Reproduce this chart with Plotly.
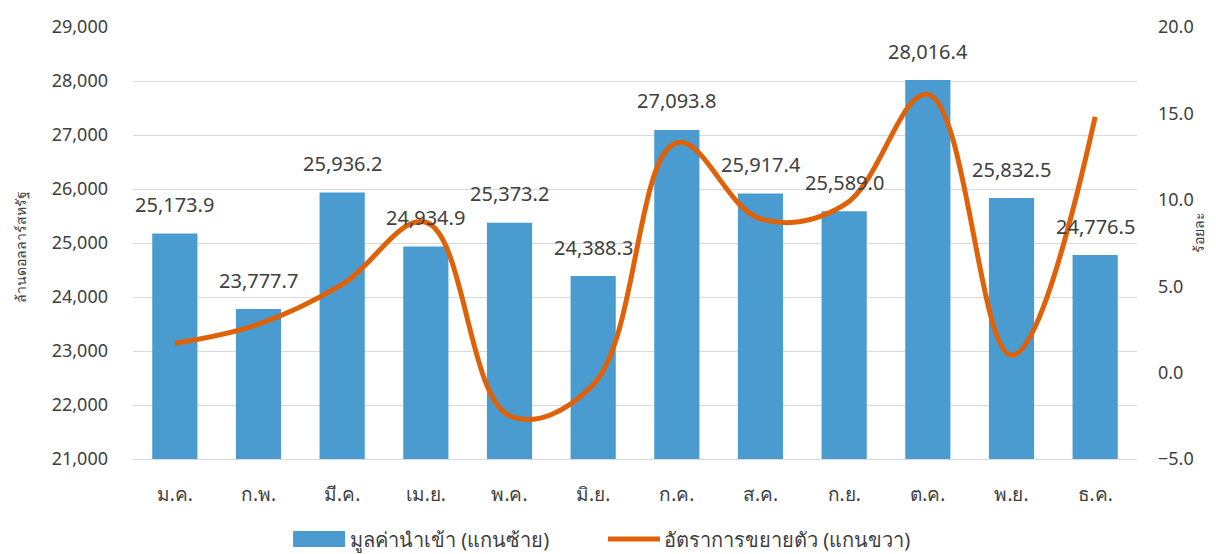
import plotly.graph_objects as go

months = ["ม.ค.", "ก.พ.", "มี.ค.", "เม.ย.", "พ.ค.", "มิ.ย.",
          "ก.ค.", "ส.ค.", "ก.ย.", "ต.ค.", "พ.ย.", "ธ.ค."]
import_value = [25173.9, 23777.7, 25936.2, 24934.9, 25373.2, 24388.3,
                27093.8, 25917.4, 25589.0, 28016.4, 25832.5, 24776.5]
growth_rate = [1.7, 2.8, 5.1, 8.7, -2.5, -0.7, 13.3, 8.9, 9.7, 16.1, 1.0, 14.8]

left_ticks = [21000, 22000, 23000, 24000, 25000, 26000, 27000, 28000, 29000]
right_ticks = [-5.0, 0.0, 5.0, 10.0, 15.0, 20.0]

bar_name = "มูลค่านำเข้า (แกนซ้าย)"
line_name = "อัตราการขยายตัว (แกนขวา)"

FONT = "Noto Sans, sans-serif"
TXT = "#404040"
BAR = "#4A9BD0"
LINE = "#DF6209"

fig = go.Figure()

fig.add_trace(go.Bar(
    x=months, y=import_value, name=bar_name,
    marker=dict(color=BAR, line=dict(width=0)),
))

fig.add_trace(go.Scatter(
    x=months, y=growth_rate, name=line_name,
    mode="lines", yaxis="y2",
    line=dict(color=LINE, width=5, shape="spline", smoothing=1.1),
))

# data labels above bars
for m, v in zip(months, import_value):
    fig.add_annotation(
        x=m, y=v, xref="x", yref="y", text=f"{v:,.1f}",
        showarrow=False, yshift=29, yanchor="middle",
        font=dict(family=FONT, size=20, color=TXT),
    )

# axis titles
fig.add_annotation(
    x=-0.112, y=0.49, xref="paper", yref="paper", text="ล้านดอลลาร์สหรัฐ",
    showarrow=False, textangle=-90, xanchor="center", yanchor="middle",
    font=dict(family=FONT, size=14, color=TXT),
)
fig.add_annotation(
    x=1.061, y=0.523, xref="paper", yref="paper", text="ร้อยละ",
    showarrow=False, textangle=-90, xanchor="center", yanchor="middle",
    font=dict(family=FONT, size=14, color=TXT),
)

# legend drawn by hand (wide swatches like the original)
fig.add_shape(type="rect", xref="paper", yref="paper",
              x0=0.1594, x1=0.2112, y0=-0.2037, y1=-0.1667,
              fillcolor=BAR, line=dict(width=0))
fig.add_annotation(x=0.2141, y=-0.1852, xref="paper", yref="paper", text=bar_name,
                   showarrow=False, xanchor="left", yanchor="middle",
                   font=dict(family=FONT, size=20, color=TXT))
fig.add_shape(type="line", xref="paper", yref="paper",
              x0=0.4731, x1=0.5249, y0=-0.1852, y1=-0.1852,
              line=dict(color=LINE, width=5))
fig.add_annotation(x=0.5269, y=-0.1852, xref="paper", yref="paper", text=line_name,
                   showarrow=False, xanchor="left", yanchor="middle",
                   font=dict(family=FONT, size=20, color=TXT))

# page body has an 8px margin, so the figure is 8px smaller than the window
fig.update_layout(
    width=1208, height=546,
    margin=dict(l=125, r=79, t=19, b=95),
    plot_bgcolor="white", paper_bgcolor="white",
    font=dict(family=FONT, size=18, color=TXT),
    bargap=0.46,
    showlegend=False,
    xaxis=dict(showgrid=False, showline=True, linecolor="#D9D9D9", linewidth=1,
               ticks="", ticklabelstandoff=18, tickfont=dict(size=19, color=TXT),
               automargin=False),
    yaxis=dict(range=[21000, 29000], tickvals=left_ticks, tickformat=",.0f",
               showgrid=True, gridcolor="#D9D9D9", gridwidth=1, zeroline=False,
               ticks="", ticklabelstandoff=24, tickfont=dict(size=18, color=TXT),
               automargin=False),
    yaxis2=dict(range=[-5, 20], tickvals=right_ticks, tickformat=".1f",
                overlaying="y", side="right", showgrid=False, zeroline=False,
                ticks="", ticklabelstandoff=20, tickfont=dict(size=18, color=TXT),
                automargin=False),
)

fig.write_html("out.html")
